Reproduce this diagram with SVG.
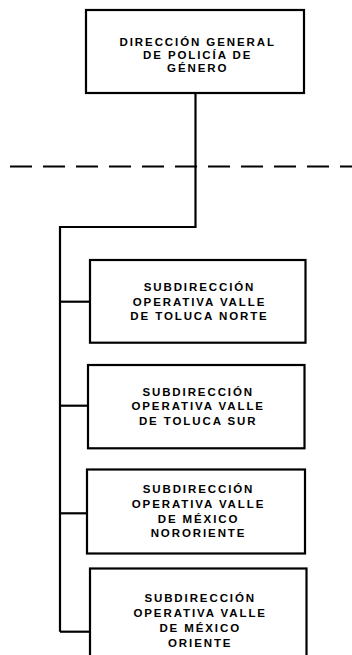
<svg xmlns="http://www.w3.org/2000/svg" width="352" height="655" viewBox="0 0 352 655">
<style>
.box{fill:#fff;stroke:#000;stroke-width:2.2}
.ln{fill:none;stroke:#000;stroke-width:2.2}
.dash{fill:none;stroke:#000;stroke-width:2.2;stroke-dasharray:22 11}
text{font-family:"Liberation Sans",Arial,sans-serif;font-weight:bold;font-size:11.5px;letter-spacing:1.9px;text-anchor:middle;fill:#000}
</style>
<rect width="352" height="655" fill="#fff"/>
<g id="connectors">
<line class="dash" x1="10" y1="166.5" x2="352" y2="166.5"/>
<polyline class="ln" points="195.5,93 195.5,227 60,227 60,631.7"/>
<line class="ln" x1="60" y1="301.7" x2="90" y2="301.7"/>
<line class="ln" x1="60" y1="405.7" x2="88" y2="405.7"/>
<line class="ln" x1="60" y1="513.3" x2="87" y2="513.3"/>
<line class="ln" x1="60" y1="631.7" x2="90" y2="631.7"/>
</g>
<g id="n0">
<rect class="box" x="86" y="10" width="218" height="83"/>
<text x="197.7" y="45.7">DIRECCIÓN GENERAL</text>
<text x="197.7" y="58.5">DE POLICÍA DE</text>
<text x="197.7" y="71.5">GÉNERO</text>
</g>
<g id="n1">
<rect class="box" x="90" y="260" width="215.5" height="82.7"/>
<text x="199.5" y="290.7">SUBDIRECCIÓN</text>
<text x="199.5" y="305.5">OPERATIVA VALLE</text>
<text x="199.5" y="320.3">DE TOLUCA NORTE</text>
</g>
<g id="n2">
<rect class="box" x="88" y="365" width="216.5" height="83.3"/>
<text x="198.2" y="395.5">SUBDIRECCIÓN</text>
<text x="198.2" y="410.3">OPERATIVA VALLE</text>
<text x="198.2" y="425.2">DE TOLUCA SUR</text>
</g>
<g id="n3">
<rect class="box" x="87" y="469.5" width="218" height="84"/>
<text x="198.5" y="493.3">SUBDIRECCIÓN</text>
<text x="198.5" y="507.8">OPERATIVA VALLE</text>
<text x="198.5" y="522.5">DE MÉXICO</text>
<text x="198.5" y="537.3">NORORIENTE</text>
</g>
<g id="n4">
<rect class="box" x="90" y="568.5" width="216.5" height="92"/>
<text x="200.2" y="601.7">SUBDIRECCIÓN</text>
<text x="200.2" y="616.6">OPERATIVA VALLE</text>
<text x="200.2" y="631.6">DE MÉXICO</text>
<text x="200.2" y="646.5">ORIENTE</text>
</g>
</svg>
